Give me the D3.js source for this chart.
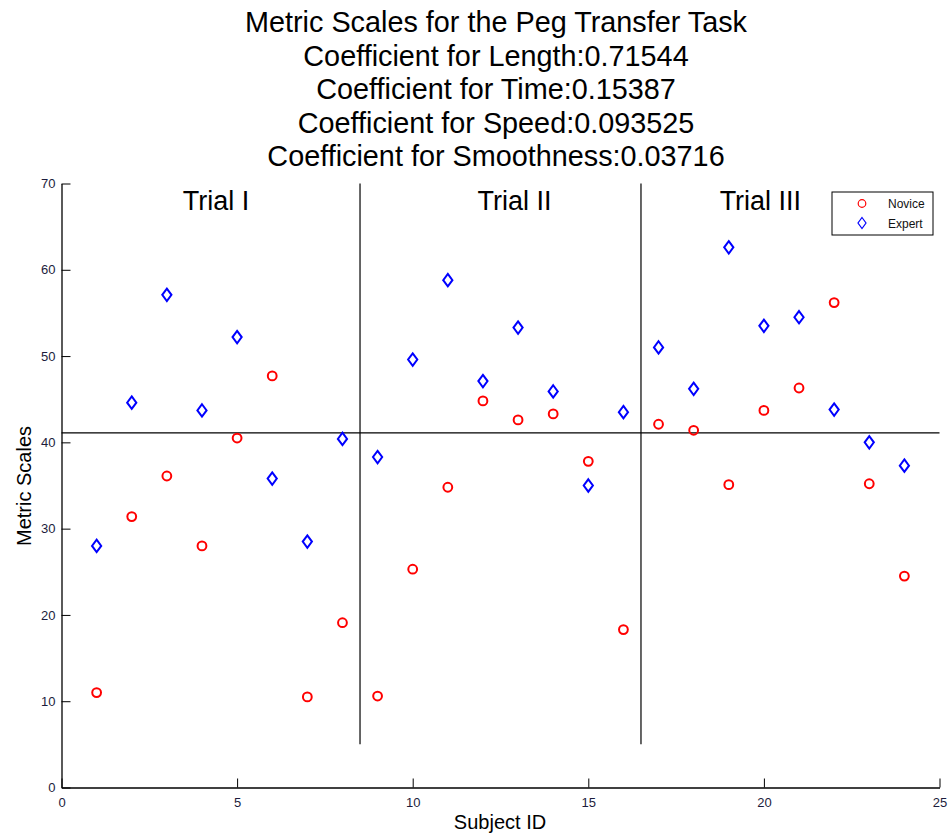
<!DOCTYPE html>
<html>
<head>
<meta charset="utf-8">
<script src="https://cdn.jsdelivr.net/npm/d3@7"></script>
<style>
  body { margin: 0; background: #fff; }
  svg { font-family: "Liberation Sans", Arial, sans-serif; }
</style>
</head>
<body>
<svg id="chart"></svg>
<script>
// data
var subjectIds = d3.range(1, 25);
var noviceScores = [11.0, 31.4, 36.1, 28.0, 40.5, 47.7, 10.5, 19.1, 10.6, 25.3, 34.8, 44.8,
                    42.6, 43.3, 37.8, 18.3, 42.1, 41.4, 35.1, 43.7, 46.3, 56.2, 35.2, 24.5];
var expertScores = [28.0, 44.6, 57.1, 43.7, 52.2, 35.8, 28.5, 40.4, 38.3, 49.6, 58.8, 47.1,
                    53.3, 45.9, 35.0, 43.5, 51.0, 46.2, 62.6, 53.5, 54.5, 43.8, 40.0, 37.3];
var xTicks = [0, 5, 10, 15, 20, 25];
var yTicks = [0, 10, 20, 30, 40, 50, 60, 70];
var trialLabels = ["Trial I", "Trial II", "Trial III"];
var trialLabelAt = [4.4, 12.9, 19.9];
var trialBreaks = [8.5, 16.5];
var threshold = 41.1;
var titleLines = [
  "Metric Scales for the Peg Transfer Task",
  "Coefficient for Length:0.71544",
  "Coefficient for Time:0.15387",
  "Coefficient for Speed:0.093525",
  "Coefficient for Smoothness:0.03716"
];
var seriesNames = ["Novice", "Expert"];

var W = 949, H = 836;
var svg = d3.select("#chart").attr("width", W).attr("height", H);

var x = d3.scaleLinear().domain([0, 25]).range([61.5, 939.5]);
var y = d3.scaleLinear().domain([0, 70]).range([787.5, 183.5]);

// title
svg.append("g").selectAll("text").data(titleLines).enter().append("text")
  .attr("x", 496).attr("y", function(d, i){ return 32 + i * 33.6; })
  .attr("text-anchor", "middle").attr("font-size", 28.8).attr("fill", "#000")
  .text(function(d){ return d; });

// axes (matlab style: inward ticks, no box)
var xAxis = svg.append("g").attr("transform", "translate(0," + y(0) + ")")
  .call(d3.axisBottom(x).tickValues(xTicks).tickSizeInner(-9).tickSizeOuter(0).tickPadding(10));
var yAxis = svg.append("g").attr("transform", "translate(" + x(0) + ",0)")
  .call(d3.axisLeft(y).tickValues(yTicks).tickSizeInner(-9).tickSizeOuter(0).tickPadding(6));
[xAxis, yAxis].forEach(function(a){
  a.select(".domain").attr("stroke", "#000").attr("stroke-width", 1.3);
  a.selectAll(".tick line").attr("stroke", "#000").attr("stroke-width", 1);
  a.selectAll(".tick text").attr("font-size", 13).attr("fill", "#1c1c3c")
    .attr("font-family", "Liberation Sans, Arial, sans-serif");
});
xAxis.selectAll(".tick text").attr("dy", "0.71em");

// axis titles
svg.append("text").attr("x", 500).attr("y", 829).attr("text-anchor", "middle")
  .attr("font-size", 20).text("Subject ID");
svg.append("text").attr("transform", "translate(31,486) rotate(-90)")
  .attr("text-anchor", "middle").attr("font-size", 20).text("Metric Scales");

// separators
svg.append("line").attr("x1", x(0)).attr("x2", x(25))
  .attr("y1", y(threshold)).attr("y2", y(threshold))
  .attr("stroke", "#000").attr("stroke-width", 1.2);
svg.selectAll(".sep").data(trialBreaks).enter().append("line")
  .attr("x1", function(d){ return x(d); }).attr("x2", function(d){ return x(d); })
  .attr("y1", y(5)).attr("y2", y(70))
  .attr("stroke", "#000").attr("stroke-width", 1.2);

svg.selectAll(".trial").data(trialLabels).enter().append("text")
  .attr("x", function(d, i){ return x(trialLabelAt[i]); }).attr("y", 210)
  .attr("text-anchor", "middle").attr("font-size", 27).text(function(d){ return d; });

// markers
var diamond = function(cx, cy){
  return "M" + cx + "," + (cy - 6.2) + "L" + (cx + 4.6) + "," + cy +
         "L" + cx + "," + (cy + 6.2) + "L" + (cx - 4.6) + "," + cy + "Z";
};
svg.append("g").selectAll("circle").data(noviceScores).enter().append("circle")
  .attr("cx", function(d, i){ return x(subjectIds[i]); })
  .attr("cy", function(d){ return y(d); })
  .attr("r", 4.4).attr("fill", "none").attr("stroke", "#ff0000").attr("stroke-width", 2);
svg.append("g").selectAll("path").data(expertScores).enter().append("path")
  .attr("d", function(d, i){ return diamond(x(subjectIds[i]), y(d)); })
  .attr("fill", "none").attr("stroke", "#0000ff").attr("stroke-width", 2);

// legend
var lg = svg.append("g");
lg.append("rect").attr("x", 832).attr("y", 192).attr("width", 101).attr("height", 43)
  .attr("fill", "#fff").attr("stroke", "#000").attr("stroke-width", 1);
lg.append("circle").attr("cx", 862).attr("cy", 203.5).attr("r", 3.8)
  .attr("fill", "none").attr("stroke", "#ff0000").attr("stroke-width", 1.2);
lg.append("path").attr("d", "M862,217.5L866,223L862,228.5L858,223Z")
  .attr("fill", "none").attr("stroke", "#0000ff").attr("stroke-width", 1.2);
lg.selectAll("text").data(seriesNames).enter().append("text")
  .attr("x", 888).attr("y", function(d, i){ return 208 + i * 19.5; })
  .attr("font-size", 12).attr("fill", "#111")
  .text(function(d){ return d; });
</script>
</body>
</html>
